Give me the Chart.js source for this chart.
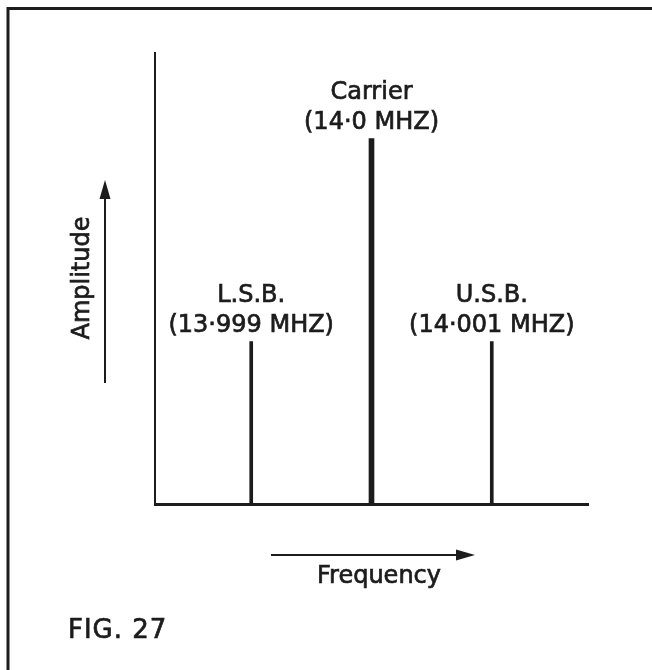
<!DOCTYPE html>
<html>
<head>
<meta charset="utf-8">
<script src="https://cdn.jsdelivr.net/npm/chart.js@4.4.1/dist/chart.umd.min.js"></script>
<style>
  html, body { margin: 0; padding: 0; background: #fff; }
  canvas { display: block; }
</style>
</head>
<body>
<canvas id="grafico" width="652" height="670"></canvas>
<script>
// datos del espectro (unidades arbitrarias de amplitud)
const frecuencias = [13.999, 14.0, 14.001];
const amplitudes = [3.6, 8.1, 3.6];
const nombres = ['L.S.B.', 'Carrier', 'U.S.B.'];
const etiquetasFrec = ['(13·999 MHZ)', '(14·0 MHZ)', '(14·001 MHZ)'];
const rangoX = [13.9982, 14.0018];
const rangoY = [0, 10];

const tinta = '#1c1c1c';
const fuente = '"DejaVu Sans", sans-serif';

// bandas laterales y portadora por separado (grosor distinto)
const bandas = frecuencias.map((f, i) => ({ x: f, y: amplitudes[i] })).filter((p, i) => nombres[i] !== 'Carrier');
const portadora = frecuencias.map((f, i) => ({ x: f, y: amplitudes[i] })).filter((p, i) => nombres[i] === 'Carrier');

// texto con un trazo fino encima para imitar la tinta del original
function texto(ctx, t, x, y) {
    ctx.fillText(t, x, y);
    ctx.strokeText(t, x, y);
}

function flecha(ctx, x1, y1, x2, y2) {
    const ang = Math.atan2(y2 - y1, x2 - x1);
    const largo = 19, ancho = 5.5;
    ctx.beginPath();
    ctx.moveTo(x1, y1);
    ctx.lineTo(x2 - Math.cos(ang) * largo * 0.8, y2 - Math.sin(ang) * largo * 0.8);
    ctx.stroke();
    ctx.beginPath();
    ctx.moveTo(x2, y2);
    ctx.lineTo(x2 - Math.cos(ang) * largo - Math.sin(ang) * ancho, y2 - Math.sin(ang) * largo + Math.cos(ang) * ancho);
    ctx.lineTo(x2 - Math.cos(ang) * largo + Math.sin(ang) * ancho, y2 - Math.sin(ang) * largo - Math.cos(ang) * ancho);
    ctx.closePath();
    ctx.fill();
}

const pluginFigura = {
    id: 'figura',
    afterDatasetsDraw(chart) {
        const ctx = chart.ctx;
        const xs = chart.scales.x, ys = chart.scales.y;
        ctx.save();
        ctx.fillStyle = tinta;
        ctx.strokeStyle = tinta;
        ctx.textAlign = 'center';
        ctx.textBaseline = 'alphabetic';
        ctx.font = '24px ' + fuente;
        ctx.lineWidth = 0.7;

        // etiquetas sobre cada línea
        frecuencias.forEach((f, i) => {
            const x = xs.getPixelForValue(f);
            const y = ys.getPixelForValue(amplitudes[i]);
            texto(ctx, nombres[i], x, y - 40);
            texto(ctx, etiquetasFrec[i], x, y - 10);
        });

        // eje de amplitud: texto girado
        ctx.save();
        ctx.translate(83, 278);
        ctx.rotate(-Math.PI / 2);
        ctx.textBaseline = 'middle';
        texto(ctx, 'Amplitude', 0, 0);
        ctx.restore();

        // eje de frecuencia
        texto(ctx, 'Frequency', 379, 583);

        // pie de figura
        ctx.textAlign = 'left';
        ctx.font = '26px ' + fuente;
        ctx.letterSpacing = '1px';
        texto(ctx, 'FIG. 27', 68, 638);
        ctx.letterSpacing = '0px';

        // flechas
        ctx.lineWidth = 2;
        flecha(ctx, 105, 383, 105, 180);
        flecha(ctx, 271, 555, 475, 555);

        // marco
        ctx.lineWidth = 3;
        ctx.beginPath();
        ctx.moveTo(8, 670);
        ctx.lineTo(8, 8.5);
        ctx.lineTo(652, 8.5);
        ctx.stroke();
        ctx.restore();
    }
};

new Chart(document.getElementById('grafico'), {
    type: 'bar',
    data: {
        datasets: [
            { label: 'Bandas', data: bandas, backgroundColor: tinta, barThickness: 3, grouped: false },
            { label: 'Portadora', data: portadora, backgroundColor: tinta, barThickness: 5, grouped: false }
        ]
    },
    options: {
        responsive: false,
        animation: false,
        devicePixelRatio: 1,
        layout: { padding: { left: 155, right: 64, top: 53, bottom: 166 } },
        plugins: { legend: { display: false }, tooltip: { enabled: false } },
        scales: {
            x: {
                type: 'linear', min: rangoX[0], max: rangoX[1], offset: false,
                grid: { display: false, drawTicks: false },
                ticks: { display: false },
                border: { display: true, color: tinta, width: 3 }
            },
            y: {
                min: rangoY[0], max: rangoY[1],
                grid: { display: false, drawTicks: false },
                ticks: { display: false },
                border: { display: true, color: tinta, width: 2 }
            }
        }
    },
    plugins: [pluginFigura]
});
</script>
</body>
</html>
